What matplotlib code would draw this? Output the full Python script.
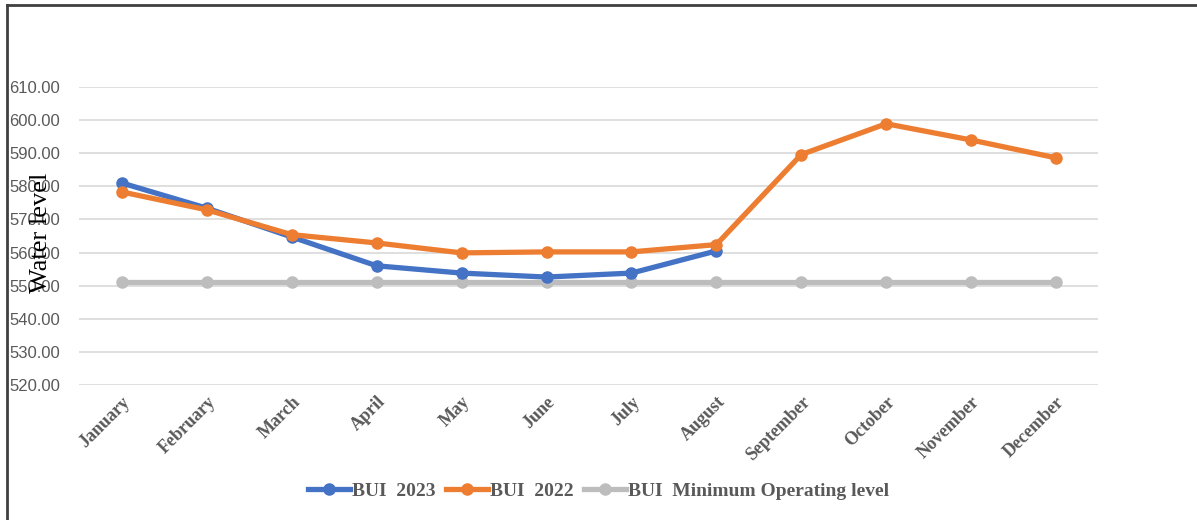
import matplotlib
matplotlib.use("Agg")
import matplotlib.pyplot as plt
from matplotlib.lines import Line2D

months = ["January", "February", "March", "April", "May", "June", "July",
          "August", "September", "October", "November", "December"]
bui_2023 = [581.0, 573.4, 564.7, 556.0, 553.8, 552.6, 553.8, 560.5]
bui_2022 = [578.3, 572.9, 565.4, 562.9, 559.9, 560.2, 560.2, 562.4,
            589.6, 598.9, 594.0, 588.6]
bui_min = [551.1] * 12
yticks = [520, 530, 540, 550, 560, 570, 580, 590, 600, 610]

c23, c22, cmin = "#4472C4", "#ED7D31", "#BDBDBD"
gray_txt = "#595959"

fig = plt.figure(figsize=(11.97, 5.2), dpi=100)
ax = fig.add_axes([0.0664, 0.2596, 0.8513, 0.5731])

x = list(range(len(months)))
ax.plot(x, bui_min, color=cmin, lw=3.8, marker="o", ms=8, zorder=2)
ax.plot(x[:len(bui_2023)], bui_2023, color=c23, lw=3.8, marker="o", ms=8, zorder=3)
ax.plot(x, bui_2022, color=c22, lw=3.8, marker="o", ms=8, zorder=4)

ax.set_xlim(-0.5, 11.5)
ax.set_ylim(520, 610)
ax.set_yticks(yticks)
ax.set_yticklabels([f"{v:.2f}" for v in yticks], fontfamily="Liberation Sans",
                   fontsize=12, color=gray_txt)
ax.set_xticks(x)
ax.set_xticklabels(months, rotation=45, ha="right", rotation_mode="anchor",
                   fontfamily="Liberation Serif", fontweight="bold",
                   fontsize=13, color=gray_txt)
ax.tick_params(axis="both", length=0)
ax.tick_params(axis="y", pad=14)
ax.tick_params(axis="x", pad=6)
ax.grid(axis="y", color="#D9D9D9", lw=1.2)
ax.set_axisbelow(True)
for s in ax.spines.values():
    s.set_visible(False)

fig.text(0.034, 0.552, "Water level", rotation=90, ha="center", va="center",
         fontfamily="Liberation Serif", fontsize=19, color="black")

handles = [Line2D([], [], color=c, lw=3.8, marker="o", ms=8) for c in (c23, c22, cmin)]
fig.legend(handles, ["BUI  2023", "BUI  2022", "BUI  Minimum Operating level"],
           loc="center", bbox_to_anchor=(0.5, 0.056), ncol=3, frameon=False,
           prop={"family": "Liberation Serif", "weight": "bold", "size": 14},
           labelcolor=gray_txt, handlelength=2.2, handletextpad=0.1,
           columnspacing=0.5)

# figure frame (top and left lines)
fig.add_artist(Line2D([0.006, 1.0], [0.99, 0.99], color="#404040", lw=2,
                      transform=fig.transFigure))
fig.add_artist(Line2D([0.006, 0.006], [0.0, 0.99], color="#404040", lw=2,
                      transform=fig.transFigure))

fig.savefig("out.png", dpi=100)
